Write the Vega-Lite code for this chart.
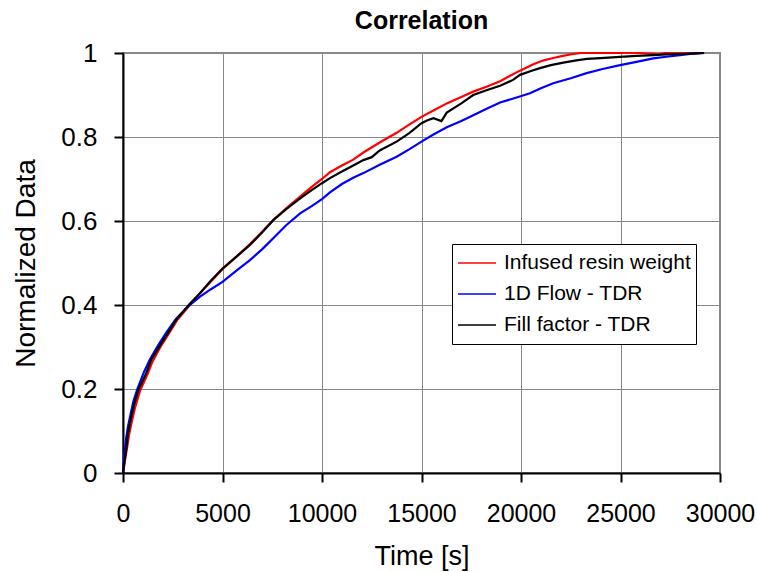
{
  "$schema": "https://vega.github.io/schema/vega-lite/v6.json",
  "width": 597,
  "height": 420,
  "autosize": {"type": "none"},
  "padding": {"left": 123, "top": 53, "right": 37, "bottom": 99},
  "background": "white",
  "title": {"text": "Correlation", "fontSize": 25, "fontWeight": "bold", "font": "Liberation Sans", "color": "black", "anchor": "middle", "offset": 6},
  "config": {
    "font": "Liberation Sans",
    "view": {"stroke": "#888888", "strokeWidth": 2}
  },
  "data": {"values": [
    {"s":"Infused resin weight","t":0,"v":0},{"s":"Infused resin weight","t":100,"v":0.03},{"s":"Infused resin weight","t":200,"v":0.058},{"s":"Infused resin weight","t":300,"v":0.09},{"s":"Infused resin weight","t":440,"v":0.122},{"s":"Infused resin weight","t":600,"v":0.155},{"s":"Infused resin weight","t":850,"v":0.195},{"s":"Infused resin weight","t":1230,"v":0.235},{"s":"Infused resin weight","t":1480,"v":0.265},{"s":"Infused resin weight","t":1880,"v":0.3},{"s":"Infused resin weight","t":2300,"v":0.332},{"s":"Infused resin weight","t":2720,"v":0.364},{"s":"Infused resin weight","t":3330,"v":0.398},{"s":"Infused resin weight","t":3900,"v":0.43},{"s":"Infused resin weight","t":4500,"v":0.46},{"s":"Infused resin weight","t":5000,"v":0.485},{"s":"Infused resin weight","t":5700,"v":0.515},{"s":"Infused resin weight","t":6380,"v":0.545},{"s":"Infused resin weight","t":7000,"v":0.575},{"s":"Infused resin weight","t":7550,"v":0.602},{"s":"Infused resin weight","t":8200,"v":0.63},{"s":"Infused resin weight","t":8900,"v":0.658},{"s":"Infused resin weight","t":9500,"v":0.682},{"s":"Infused resin weight","t":10000,"v":0.7},{"s":"Infused resin weight","t":10400,"v":0.716},{"s":"Infused resin weight","t":11000,"v":0.732},{"s":"Infused resin weight","t":11570,"v":0.746},{"s":"Infused resin weight","t":12080,"v":0.763},{"s":"Infused resin weight","t":12900,"v":0.787},{"s":"Infused resin weight","t":13750,"v":0.81},{"s":"Infused resin weight","t":14400,"v":0.83},{"s":"Infused resin weight","t":15000,"v":0.848},{"s":"Infused resin weight","t":15600,"v":0.863},{"s":"Infused resin weight","t":16270,"v":0.88},{"s":"Infused resin weight","t":17000,"v":0.895},{"s":"Infused resin weight","t":17600,"v":0.908},{"s":"Infused resin weight","t":18300,"v":0.92},{"s":"Infused resin weight","t":18950,"v":0.933},{"s":"Infused resin weight","t":19500,"v":0.947},{"s":"Infused resin weight","t":19950,"v":0.958},{"s":"Infused resin weight","t":20620,"v":0.973},{"s":"Infused resin weight","t":21100,"v":0.982},{"s":"Infused resin weight","t":21620,"v":0.988},{"s":"Infused resin weight","t":22100,"v":0.993},{"s":"Infused resin weight","t":22550,"v":0.997},{"s":"Infused resin weight","t":23000,"v":1.0},{"s":"Infused resin weight","t":24000,"v":1.0},{"s":"Infused resin weight","t":26000,"v":1.0},{"s":"Infused resin weight","t":27000,"v":0.997},{"s":"Infused resin weight","t":27200,"v":1.0},{"s":"Infused resin weight","t":29200,"v":1.0},
    {"s":"1D Flow - TDR","t":0,"v":0},{"s":"1D Flow - TDR","t":60,"v":0.04},{"s":"1D Flow - TDR","t":150,"v":0.08},{"s":"1D Flow - TDR","t":250,"v":0.11},{"s":"1D Flow - TDR","t":380,"v":0.14},{"s":"1D Flow - TDR","t":520,"v":0.17},{"s":"1D Flow - TDR","t":720,"v":0.2},{"s":"1D Flow - TDR","t":1050,"v":0.24},{"s":"1D Flow - TDR","t":1350,"v":0.27},{"s":"1D Flow - TDR","t":1780,"v":0.305},{"s":"1D Flow - TDR","t":2200,"v":0.336},{"s":"1D Flow - TDR","t":2650,"v":0.366},{"s":"1D Flow - TDR","t":3300,"v":0.398},{"s":"1D Flow - TDR","t":3870,"v":0.42},{"s":"1D Flow - TDR","t":4400,"v":0.437},{"s":"1D Flow - TDR","t":5000,"v":0.455},{"s":"1D Flow - TDR","t":5700,"v":0.482},{"s":"1D Flow - TDR","t":6380,"v":0.507},{"s":"1D Flow - TDR","t":7000,"v":0.533},{"s":"1D Flow - TDR","t":7550,"v":0.559},{"s":"1D Flow - TDR","t":8200,"v":0.59},{"s":"1D Flow - TDR","t":8900,"v":0.618},{"s":"1D Flow - TDR","t":9500,"v":0.636},{"s":"1D Flow - TDR","t":10000,"v":0.652},{"s":"1D Flow - TDR","t":10400,"v":0.668},{"s":"1D Flow - TDR","t":11000,"v":0.688},{"s":"1D Flow - TDR","t":11570,"v":0.703},{"s":"1D Flow - TDR","t":12080,"v":0.714},{"s":"1D Flow - TDR","t":12900,"v":0.734},{"s":"1D Flow - TDR","t":13750,"v":0.753},{"s":"1D Flow - TDR","t":14400,"v":0.771},{"s":"1D Flow - TDR","t":15000,"v":0.789},{"s":"1D Flow - TDR","t":15600,"v":0.806},{"s":"1D Flow - TDR","t":16270,"v":0.823},{"s":"1D Flow - TDR","t":17000,"v":0.838},{"s":"1D Flow - TDR","t":17600,"v":0.852},{"s":"1D Flow - TDR","t":18300,"v":0.868},{"s":"1D Flow - TDR","t":18950,"v":0.882},{"s":"1D Flow - TDR","t":19700,"v":0.893},{"s":"1D Flow - TDR","t":20450,"v":0.904},{"s":"1D Flow - TDR","t":21000,"v":0.916},{"s":"1D Flow - TDR","t":21620,"v":0.928},{"s":"1D Flow - TDR","t":22500,"v":0.94},{"s":"1D Flow - TDR","t":23300,"v":0.952},{"s":"1D Flow - TDR","t":24100,"v":0.962},{"s":"1D Flow - TDR","t":24980,"v":0.971},{"s":"1D Flow - TDR","t":25800,"v":0.979},{"s":"1D Flow - TDR","t":26650,"v":0.987},{"s":"1D Flow - TDR","t":27300,"v":0.991},{"s":"1D Flow - TDR","t":27990,"v":0.995},{"s":"1D Flow - TDR","t":28500,"v":0.998},{"s":"1D Flow - TDR","t":29200,"v":1.0},
    {"s":"Fill factor - TDR","t":0,"v":0},{"s":"Fill factor - TDR","t":85,"v":0.03},{"s":"Fill factor - TDR","t":170,"v":0.06},{"s":"Fill factor - TDR","t":250,"v":0.095},{"s":"Fill factor - TDR","t":385,"v":0.127},{"s":"Fill factor - TDR","t":540,"v":0.16},{"s":"Fill factor - TDR","t":790,"v":0.2},{"s":"Fill factor - TDR","t":1170,"v":0.238},{"s":"Fill factor - TDR","t":1420,"v":0.27},{"s":"Fill factor - TDR","t":1840,"v":0.302},{"s":"Fill factor - TDR","t":2260,"v":0.333},{"s":"Fill factor - TDR","t":2680,"v":0.365},{"s":"Fill factor - TDR","t":3300,"v":0.4},{"s":"Fill factor - TDR","t":3870,"v":0.428},{"s":"Fill factor - TDR","t":4400,"v":0.457},{"s":"Fill factor - TDR","t":5000,"v":0.487},{"s":"Fill factor - TDR","t":5700,"v":0.515},{"s":"Fill factor - TDR","t":6380,"v":0.543},{"s":"Fill factor - TDR","t":7000,"v":0.573},{"s":"Fill factor - TDR","t":7550,"v":0.602},{"s":"Fill factor - TDR","t":8200,"v":0.628},{"s":"Fill factor - TDR","t":8900,"v":0.654},{"s":"Fill factor - TDR","t":9500,"v":0.674},{"s":"Fill factor - TDR","t":10000,"v":0.69},{"s":"Fill factor - TDR","t":10400,"v":0.702},{"s":"Fill factor - TDR","t":11000,"v":0.718},{"s":"Fill factor - TDR","t":11570,"v":0.732},{"s":"Fill factor - TDR","t":12080,"v":0.745},{"s":"Fill factor - TDR","t":12500,"v":0.752},{"s":"Fill factor - TDR","t":12900,"v":0.768},{"s":"Fill factor - TDR","t":13750,"v":0.789},{"s":"Fill factor - TDR","t":14400,"v":0.81},{"s":"Fill factor - TDR","t":15000,"v":0.833},{"s":"Fill factor - TDR","t":15300,"v":0.84},{"s":"Fill factor - TDR","t":15600,"v":0.845},{"s":"Fill factor - TDR","t":16000,"v":0.838},{"s":"Fill factor - TDR","t":16270,"v":0.858},{"s":"Fill factor - TDR","t":17000,"v":0.88},{"s":"Fill factor - TDR","t":17600,"v":0.9},{"s":"Fill factor - TDR","t":18300,"v":0.912},{"s":"Fill factor - TDR","t":18950,"v":0.922},{"s":"Fill factor - TDR","t":19600,"v":0.936},{"s":"Fill factor - TDR","t":19950,"v":0.948},{"s":"Fill factor - TDR","t":20500,"v":0.957},{"s":"Fill factor - TDR","t":20950,"v":0.964},{"s":"Fill factor - TDR","t":21500,"v":0.971},{"s":"Fill factor - TDR","t":22130,"v":0.977},{"s":"Fill factor - TDR","t":22700,"v":0.982},{"s":"Fill factor - TDR","t":23300,"v":0.986},{"s":"Fill factor - TDR","t":24000,"v":0.988},{"s":"Fill factor - TDR","t":24980,"v":0.991},{"s":"Fill factor - TDR","t":25800,"v":0.993},{"s":"Fill factor - TDR","t":26650,"v":0.995},{"s":"Fill factor - TDR","t":27500,"v":0.997},{"s":"Fill factor - TDR","t":28300,"v":0.998},{"s":"Fill factor - TDR","t":29200,"v":1.0}
  ]},
  "mark": {"type": "line", "strokeWidth": 2.2},
  "encoding": {
    "x": {
      "field": "t", "type": "quantitative",
      "scale": {"domain": [0, 30000], "nice": false, "zero": true},
      "axis": {
        "title": "Time [s]", "values": [0, 5000, 10000, 15000, 20000, 25000, 30000], "format": "d",
        "labelOverlap": false, "labelBound": false, "labelFlush": false,
        "grid": true, "gridColor": "#888888", "gridWidth": 1, "gridOpacity": 1,
        "domainColor": "black", "domainWidth": 2, "tickColor": "black", "tickWidth": 2, "tickSize": 9,
        "labelFontSize": 25, "labelColor": "black", "labelPadding": 19, "labelFont": "Liberation Sans",
        "titleFontSize": 27, "titleFontWeight": "normal", "titleColor": "black", "titlePadding": 17, "titleFont": "Liberation Sans"
      }
    },
    "y": {
      "field": "v", "type": "quantitative",
      "scale": {"domain": [0, 1], "nice": false},
      "axis": {
        "title": "Normalized Data", "values": [0, 0.2, 0.4, 0.6, 0.8, 1], "format": "~g",
        "labelOverlap": false, "labelBound": false, "labelFlush": false,
        "grid": true, "gridColor": "#888888", "gridWidth": 1, "gridOpacity": 1,
        "domainColor": "black", "domainWidth": 2, "tickColor": "black", "tickWidth": 2, "tickSize": 9,
        "labelFontSize": 26, "labelColor": "black", "labelPadding": 17, "labelFont": "Liberation Sans",
        "titleFontSize": 28, "titleFontWeight": "normal", "titleColor": "black", "titlePadding": 20, "titleFont": "Liberation Sans"
      }
    },
    "color": {
      "field": "s", "type": "nominal",
      "scale": {"domain": ["Infused resin weight", "1D Flow - TDR", "Fill factor - TDR"], "range": ["#ff0000", "#0000ff", "#000000"]},
      "legend": {
        "orient": "none", "legendX": 329, "legendY": 191, "title": null,
        "symbolType": "stroke", "symbolSize": 1444, "symbolStrokeWidth": 1.5,
        "labelFontSize": 21, "labelColor": "black", "labelFont": "Liberation Sans", "labelOffset": 7, "labelLimit": 400,
        "strokeColor": "black", "fillColor": "white", "padding": 5, "rowPadding": 3, "clipHeight": 28
      }
    },
    "order": {"field": "t", "type": "quantitative"}
  }
}
